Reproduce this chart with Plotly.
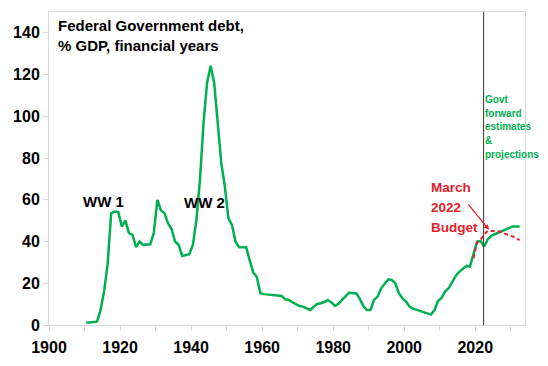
import plotly.graph_objects as go

# Federal Government debt, % GDP (financial years)
years = list(range(1910, 2033))
debt = [
    1.1, 1.3, 1.5, 1.6, 7.0, 16.0, 29.0, 53.5, 54.4, 54.2,          # 1910-1919
    47.2, 50.1, 44.0, 43.2, 37.3, 40.0, 38.4, 38.4, 38.7, 44.0,     # 1920-1929
    60.0, 55.0, 53.6, 48.8, 46.0, 40.0, 38.4, 33.1, 33.5, 33.9,     # 1930-1939
    38.4, 50.4, 69.6, 96.8, 116.0, 124.3, 116.0, 96.8, 77.6, 66.4, # 1940-1949
    51.2, 48.0, 40.0, 37.3, 37.3, 37.3, 31.0, 25.2, 23.0, 15.2,     # 1950-1959
    14.8, 14.6, 14.4, 14.2, 14.0, 13.9, 12.3, 12.0, 11.0, 10.1,     # 1960-1969
    9.1, 8.8, 8.0, 7.2, 8.6, 10.1, 10.4, 11.0, 12.0, 10.8,          # 1970-1979
    9.1, 10.2, 12.0, 13.6, 15.5, 15.2, 15.2, 12.5, 9.1, 7.2,        # 1980-1989
    7.2, 12.0, 13.6, 17.6, 19.5, 21.9, 21.6, 20.0, 15.2, 12.8,      # 1990-1999
    11.2, 8.8, 7.8, 7.3, 6.8, 6.3, 5.8, 5.0, 7.0, 11.5,             # 2000-2009
    13.0, 16.0, 17.6, 20.5, 23.5, 25.5, 27.0, 28.3, 28.0, 34.0,     # 2010-2019
    40.0, 40.2, 37.6, 41.0, 42.7, 43.5, 44.2, 45.0, 45.6, 46.3,     # 2020-2029
    47.2, 47.2, 47.2,                                               # 2030-2032
]

budget_years = list(range(2019, 2033))
budget_debt = [32.0, 39.5, 40.8, 43.5, 45.1, 45.2, 45.1, 44.9, 44.4, 43.8,
               43.1, 42.4, 41.6, 40.7]

# financial years end 30 June -> plotted mid-year
x_offset = 0.5
forecast_start = 2022.35

x_tick_vals = list(range(1900, 2031, 10))
x_tick_text = [str(v) if v % 20 == 0 and v <= 2020 else "" for v in x_tick_vals]
y_tick_vals = list(range(0, 141, 20))

green_note = ["Govt", "forward", "estimates", "&", "projections"]
red_note = ["March", "2022", "Budget"]

GREEN = "#00B050"
RED = "#E1222B"
FONT = "Liberation Sans, Arial, sans-serif"


def sized(lines, px):
    return "<br>".join(f"<span style='font-size:{px}px'>{t}</span>" for t in lines)


fig = go.Figure()
fig.add_trace(go.Scatter(
    x=[y + x_offset for y in years], y=debt, mode="lines",
    line=dict(color=GREEN, width=2.5), showlegend=False, hoverinfo="skip"))
fig.add_trace(go.Scatter(
    x=[y + x_offset for y in budget_years], y=budget_debt, mode="lines",
    line=dict(color=RED, width=2, dash="4px,3px"), showlegend=False, hoverinfo="skip"))

fig.add_shape(type="line", xref="x", yref="paper", x0=forecast_start, x1=forecast_start,
              y0=0, y1=1, line=dict(color="#333333", width=1))

fig.add_annotation(xref="paper", yref="paper", x=0.014, y=0.99, xanchor="left", yanchor="top",
                   text="Federal Government debt,<br>% GDP, financial years", showarrow=False,
                   align="left", font=dict(family=FONT, size=15, color="black", weight="bold"))
fig.add_annotation(x=1915.4, y=59, text="WW 1", showarrow=False,
                   font=dict(family=FONT, size=15, color="black", weight="bold"))
fig.add_annotation(x=1943.8, y=58.5, text="WW 2", showarrow=False,
                   font=dict(family=FONT, size=15, color="black", weight="bold"))
fig.add_annotation(xref="x", yref="paper", x=2022.3, y=0.746, xanchor="left", yanchor="top",
                   text=sized(green_note, 10), showarrow=False,
                   align="left", font=dict(family=FONT, size=10.5, color=GREEN, weight="bold"))
fig.add_annotation(x=2007.1, y=70.5, xanchor="left", yanchor="top",
                   text=sized(red_note, 13.5), showarrow=False, align="left",
                   font=dict(family=FONT, size=15.4, color=RED, weight="bold"))
fig.add_annotation(x=2023.9, y=45.6, ax=-22, ay=-27, text="", showarrow=True,
                   arrowhead=2, arrowsize=0.8, arrowwidth=1.3, arrowcolor=RED)

fig.update_layout(
    width=540, height=358,
    margin=dict(l=41, r=23, t=4, b=41),
    paper_bgcolor="white", plot_bgcolor="white",
    font=dict(family=FONT, color="black"),
    xaxis=dict(range=[1900, 2034], tickvals=x_tick_vals, ticktext=x_tick_text,
               showgrid=False, zeroline=False, showline=True, mirror=True,
               linecolor="#D9D9D9", linewidth=1, ticks="outside", ticklen=5,
               tickcolor="#D9D9D9", ticklabelstandoff=3,
               tickfont=dict(size=16, weight="bold", color="black")),
    yaxis=dict(range=[0, 150], tickvals=y_tick_vals,
               showgrid=False, zeroline=False, showline=True, mirror=True,
               linecolor="#D9D9D9", linewidth=1, ticks="outside", ticklen=5,
               tickcolor="#D9D9D9", tickfont=dict(size=16, weight="bold", color="black")),
)

fig.write_html("out.html")
